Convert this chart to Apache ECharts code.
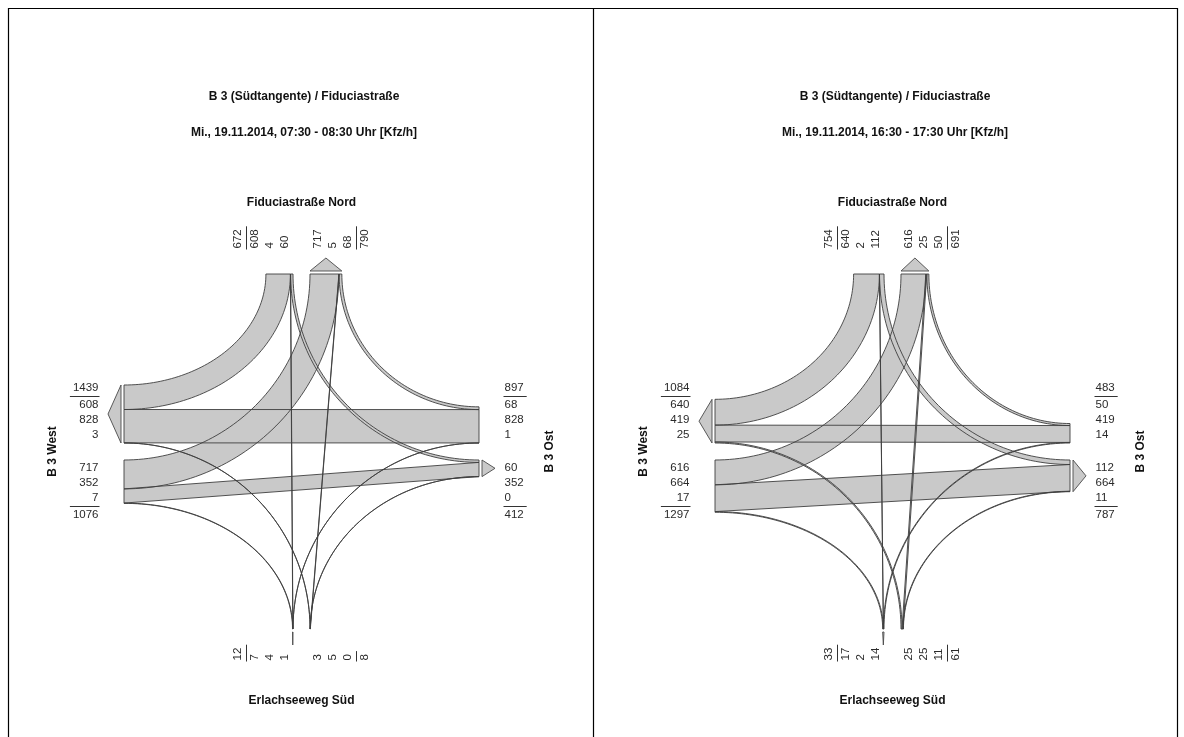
<!DOCTYPE html>
<html>
<head>
<meta charset="utf-8">
<title>Knotenstrombelastung B 3 / Fiduciastraße</title>
<script src="https://cdn.jsdelivr.net/npm/echarts@6.0.0/dist/echarts.min.js"></script>
<style>
html, body { margin: 0; padding: 0; background: #fff; }
#chart { width: 1184px; height: 737px; }
</style>
</head>
<body>
<div id="chart"></div>
<script>
// Titel
var titel = 'B 3 (Südtangente) / Fiduciastraße';
var untertitel = ['Mi., 19.11.2014, 07:30 - 08:30 Uhr [Kfz/h]', 'Mi., 19.11.2014, 16:30 - 17:30 Uhr [Kfz/h]'];
// Arme im Uhrzeigersinn: Nord, Ost, Süd, West
var armNamen = ['Fiduciastraße Nord', 'B 3 Ost', 'Erlachseeweg Süd', 'B 3 West'];

// Zufahrt -> [rechts, geradeaus, links] in Kfz/h
// Frühspitze 07:30 - 08:30
var frueh_Nord = [608, 4, 60];
var frueh_Ost = [68, 828, 1];
var frueh_Sued = [0, 5, 3];
var frueh_West = [7, 352, 717];
// Spätspitze 16:30 - 17:30
var spaet_Nord = [640, 2, 112];
var spaet_Ost = [50, 419, 14];
var spaet_Sued = [11, 25, 25];
var spaet_West = [17, 664, 616];

// Geometrie (Diagrammeinheiten = px der Achsen)
var R = 177.5;        // Armlänge ab Mitte
var G = 8.5;          // halber Mittelstreifen
var SC = 0.0403;      // Bandbreite je Kfz/h
var LD = 203;         // Abstand der Zahlen
var LD_SUED = 209;
var ROWS = [16.5, 31.5, 46.8];
var SEP = 55, SUM = 63.5;
var CY = 451.5, HALF = 250;

var U = [[0, -1], [1, 0], [0, 1], [-1, 0]];   // nach außen
var T = [[1, 0], [0, 1], [-1, 0], [0, -1]];   // rechts, nach außen gesehen
var TURN = [3, 2, 1];                          // rechts, geradeaus, links

var FONT = '11.5px "Liberation Sans", Arial, sans-serif';
var FONT_B = 'bold 12px "Liberation Sans", Arial, sans-serif';

var panels = [
    {cx: 301.5, sub: untertitel[0], vol: [frueh_Nord, frueh_Ost, frueh_Sued, frueh_West]},
    {cx: 892.5, sub: untertitel[1], vol: [spaet_Nord, spaet_Ost, spaet_Sued, spaet_West]}
];

function pt(arm, d, along) {
    return [d * U[arm][0] + along * T[arm][0], d * U[arm][1] + along * T[arm][1]];
}
function srcArm(b, m) { return (b + 4 - TURN[m]) % 4; }

function makeRenderer(vol) {
    function inStart(a, m) {
        var o = G;
        for (var mm = 2; mm > m; mm--) o += vol[a][mm] * SC;
        return o;
    }
    function outStart(b, m) {
        var o = G;
        for (var mm = 2; mm > m; mm--) o += vol[srcArm(b, mm)][mm] * SC;
        return o;
    }
    function outVals(b) {
        return [vol[srcArm(b, 2)][2], vol[srcArm(b, 1)][1], vol[srcArm(b, 0)][0]];
    }
    function edge(a, m, oi, oo) {
        var b = (a + TURN[m]) % 4;
        var P = pt(a, R, -oi), Q = pt(b, R, oo);
        if (m === 1) return [P, Q];
        var K = [R * (U[a][0] + U[b][0]), R * (U[a][1] + U[b][1])];
        var res = [];
        for (var i = 0; i <= 60; i++) {
            var th = i / 60 * Math.PI / 2, c = Math.cos(th), s = Math.sin(th);
            res.push([K[0] + (P[0] - K[0]) * c + (Q[0] - K[0]) * s,
                      K[1] + (P[1] - K[1]) * c + (Q[1] - K[1]) * s]);
        }
        return res;
    }

    return function (params, api) {
        function px(p) { return api.coord(p); }
        var fills = [], lines = [], texts = [];

        // Ströme
        for (var a = 0; a < 4; a++) {
            for (var m = 0; m < 3; m++) {
                var b = (a + TURN[m]) % 4;
                var w = vol[a][m] * SC;
                var oi = inStart(a, m), oo = outStart(b, m);
                var e1 = edge(a, m, oi, oo);
                var e2 = edge(a, m, oi + w, oo + w).reverse();
                var poly = e1.concat(e2).map(px);
                fills.push({type: 'polygon', shape: {points: poly}, style: {fill: '#c9c9c9'}});
                lines.push({type: 'polygon', shape: {points: poly},
                    style: {fill: 'none', stroke: '#3e3e3e', lineWidth: 0.9}});
            }
        }

        // Pfeile an den Ausfahrten
        for (var b2 = 0; b2 < 4; b2++) {
            var ov = outVals(b2);
            var wd = (ov[0] + ov[1] + ov[2]) * SC;
            var tri = [pt(b2, R + 3, G), pt(b2, R + 16, G + wd / 2), pt(b2, R + 3, G + wd)].map(px);
            fills.push({type: 'polygon', shape: {points: tri}, style: {fill: '#c9c9c9'}});
            lines.push({type: 'polygon', shape: {points: tri},
                style: {fill: 'none', stroke: '#4a4a4a', lineWidth: 0.9}});
        }

        // Zahlen
        function label(arm, along, txt) {
            var d = arm === 2 ? LD_SUED : LD;
            var p = px(pt(arm, d, along));
            var el = {type: 'text', x: p[0], y: p[1],
                style: {text: String(txt), font: FONT, fill: '#2a2a2a',
                        align: arm === 3 ? 'right' : 'left', textAlign: arm === 3 ? 'right' : 'left',
                        verticalAlign: 'middle', textVerticalAlign: 'middle'}};
            if (arm === 0 || arm === 2) el.rotation = Math.PI / 2;
            texts.push(el);
        }
        function sepLine(arm, along, digits) {
            var len = digits * 6.4 + 3;
            var d1, d2;
            if (arm === 2) { d1 = LD_SUED + 1; d2 = LD_SUED - len; }
            else { d1 = LD - 1; d2 = LD + len; }
            var p1 = px(pt(arm, d1, along)), p2 = px(pt(arm, d2, along));
            lines.push({type: 'line', shape: {x1: p1[0], y1: p1[1], x2: p2[0], y2: p2[1]},
                style: {stroke: '#333', lineWidth: 1}});
        }
        for (var k = 0; k < 4; k++) {
            var inV = [vol[k][2], vol[k][1], vol[k][0]];
            var outV = outVals(k);
            var inSum = inV[0] + inV[1] + inV[2], outSum = outV[0] + outV[1] + outV[2];
            for (var r = 0; r < 3; r++) {
                label(k, -ROWS[r], inV[r]);
                label(k, ROWS[r], outV[r]);
            }
            label(k, -SUM, inSum);
            label(k, SUM, outSum);
            sepLine(k, -SEP, String(inSum).length);
            sepLine(k, SEP, String(outSum).length);
        }

        // Armnamen
        function name(p, txt, rot) {
            var c = px(p);
            var el = {type: 'text', x: c[0], y: c[1],
                style: {text: txt, font: FONT_B, fill: '#111',
                        align: 'center', textAlign: 'center',
                        verticalAlign: 'middle', textVerticalAlign: 'middle'}};
            if (rot) el.rotation = Math.PI / 2;
            texts.push(el);
        }
        name([0, -248.5], armNamen[0], false);
        name([248.5, 0], armNamen[1], true);
        name([0, 249.5], armNamen[2], false);
        name([-248.5, 0], armNamen[3], true);

        return {type: 'group', children: fills.concat(lines, texts)};
    };
}

var chart = echarts.init(document.getElementById('chart'));

var option = {
    backgroundColor: '#fff',
    animation: false,
    title: panels.map(function (p) {
        return {
            text: titel,
            subtext: p.sub,
            left: p.cx - 2.5,
            top: 86,
            textAlign: 'center',
            itemGap: 24,
            textStyle: {fontFamily: 'Liberation Sans', fontWeight: 'bold', fontSize: 12, color: '#111'},
            subtextStyle: {fontFamily: 'Liberation Sans', fontWeight: 'bold', fontSize: 12, color: '#111'}
        };
    }),
    grid: panels.map(function (p) {
        return {left: p.cx - HALF, top: CY - HALF, width: 2 * HALF, height: 2 * HALF, show: false};
    }),
    xAxis: panels.map(function (p, i) {
        return {gridIndex: i, type: 'value', min: -HALF, max: HALF, show: false};
    }),
    yAxis: panels.map(function (p, i) {
        return {gridIndex: i, type: 'value', min: -HALF, max: HALF, inverse: true, show: false};
    }),
    series: panels.map(function (p, i) {
        return {
            type: 'custom',
            xAxisIndex: i,
            yAxisIndex: i,
            silent: true,
            clip: false,
            data: [[0, 0]],
            renderItem: makeRenderer(p.vol)
        };
    }),
    graphic: [
        {type: 'line', shape: {x1: 8, y1: 8.5, x2: 1178, y2: 8.5}, style: {stroke: '#000', lineWidth: 1.2}},
        {type: 'line', shape: {x1: 8.5, y1: 8, x2: 8.5, y2: 737}, style: {stroke: '#000', lineWidth: 1.2}},
        {type: 'line', shape: {x1: 593.5, y1: 8, x2: 593.5, y2: 737}, style: {stroke: '#000', lineWidth: 1.2}},
        {type: 'line', shape: {x1: 1177.5, y1: 8, x2: 1177.5, y2: 737}, style: {stroke: '#000', lineWidth: 1.2}}
    ]
};

chart.setOption(option);
</script>
</body>
</html>
